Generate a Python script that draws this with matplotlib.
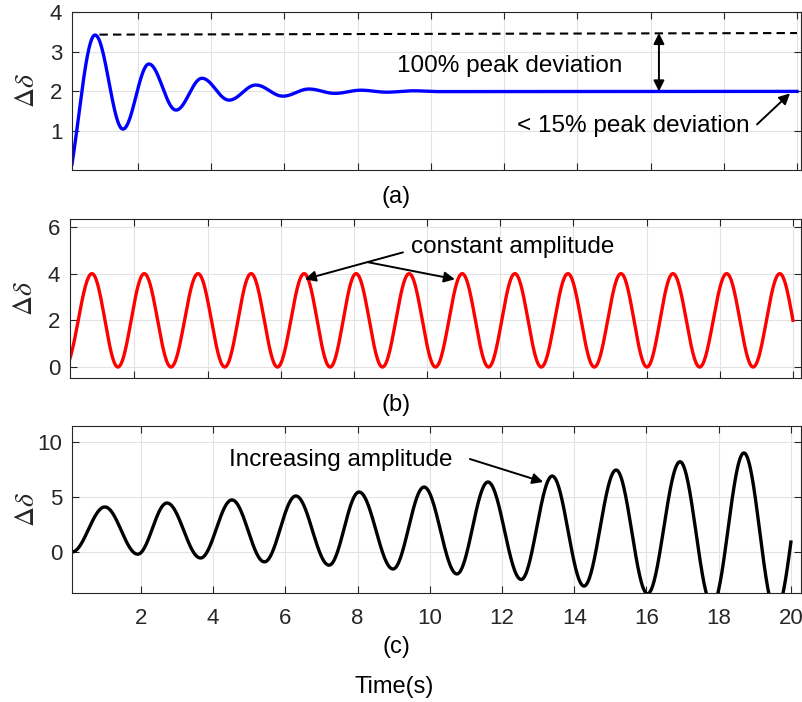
import numpy as np
import matplotlib
matplotlib.use("Agg")
import matplotlib.pyplot as plt

plt.rcParams['font.family'] = ['Liberation Sans', 'DejaVu Sans']
plt.rcParams['mathtext.fontset'] = 'stix'

# extrema (time in s, delta-delta value)
a_t = [0.2, 0.83, 1.59, 2.30, 3.04, 3.75, 4.49, 5.22, 5.96, 6.67, 7.38, 8.09,
       8.80, 9.52, 10.24, 20.0]
a_v = [0.17, 3.42, 1.05, 2.69, 1.53, 2.33, 1.78, 2.16, 1.88, 2.06, 1.95, 2.03,
       1.98, 2.015, 1.995, 2.0]

b_t = [0.24, 0.84, 1.55, 2.27, 3.00, 3.74, 4.47, 5.19, 5.91, 6.64, 7.35, 8.06,
       8.78, 9.51, 10.23, 10.96, 11.68, 12.40, 13.12, 13.85, 14.57, 15.30,
       16.01, 16.72, 17.45, 18.19, 18.91, 19.64, 20.0]
b_v = [0.38, 4, 0, 4, 0, 4, 0, 4, 0, 4, 0, 4, 0, 4, 0, 4, 0, 4, 0, 4, 0, 4,
       0, 4, 0, 4, 0, 4, 2.0]

c_t = [0.09, 1.0, 1.91, 2.72, 3.65, 4.52, 5.42, 6.29, 7.21, 8.04, 8.98, 9.84,
       10.75, 11.61, 12.53, 13.39, 14.27, 15.16, 16.03, 16.93, 17.82, 18.70,
       19.58, 20.0]
c_v = [0.0, 4.09, -0.2, 4.45, -0.55, 4.73, -0.9, 5.09, -1.2, 5.45, -1.55, 5.9,
       -2.0, 6.36, -2.5, 6.9, -3.1, 7.45, -3.8, 8.2, -4.8, 9.0, -5.4, 0.9]

x_ticks = [2, 4, 6, 8, 10, 12, 14, 16, 18, 20]


def swing(t0, v0, t1, v1, p0=0.0, p1=1.0, n=60):
    # one half swing between two read points, cosine shaped
    ph = np.linspace(p0, p1, n)
    u = (1 - np.cos(np.pi * ph)) / 2
    u = (u - u[0]) / (u[-1] - u[0])
    return np.linspace(t0, t1, n), v0 + (v1 - v0) * u


def curve(ts, vs, p_start=0.0, p_end=1.0):
    xx, yy = [], []
    for i in range(len(ts) - 1):
        p0 = p_start if i == 0 else 0.0
        p1 = p_end if i == len(ts) - 2 else 1.0
        x, y = swing(ts[i], vs[i], ts[i + 1], vs[i + 1], p0, p1)
        xx.append(x)
        yy.append(y)
    return np.concatenate(xx), np.concatenate(yy)


fig = plt.figure(figsize=(8.02, 7.02), dpi=100)
W, H = 802, 702
ax_a = fig.add_axes([72 / W, 1 - 170 / H, 729 / W, 158 / H])
ax_b = fig.add_axes([70 / W, 1 - 378 / H, 731 / W, 159 / H])
ax_c = fig.add_axes([72 / W, 1 - 593 / H, 729 / W, 167 / H])

for ax in (ax_a, ax_b, ax_c):
    ax.grid(True, color='#e3e3e3', linewidth=0.8)
    ax.set_axisbelow(True)
    ax.tick_params(direction='in', top=True, right=True, length=5,
                   width=0.8, colors='#262626', labelsize=16)
    ax.tick_params(axis='x', pad=11)
    ax.tick_params(axis='y', pad=7)
    for s in ax.spines.values():
        s.set_color('#262626')
        s.set_linewidth(0.8)
    ax.set_xticks(x_ticks)
    ax.set_ylabel(r'$\Delta\delta$', fontsize=20, color='#262626')
    ax.yaxis.set_label_coords(-0.044, 0.5)

# (a) damped
x, y = curve(a_t, a_v, p_start=0.3)
ax_a.plot(x, y, color='blue', linewidth=2.4)
ax_a.plot([0.95, 20], [3.43, 3.47], color='black', linewidth=1.5,
          linestyle=(0, (4, 2.5)))
ax_a.annotate('', xy=(16.23, 3.47), xytext=(16.23, 2.0),
              arrowprops=dict(arrowstyle='<|-|>', color='black', lw=1.4,
                              mutation_scale=16, shrinkA=0, shrinkB=0))
ax_a.text(9.08, 2.64, '100% peak deviation', fontsize=17.5, va='center')
ax_a.text(12.36, 1.12, '< 15% peak deviation', fontsize=17.5, va='center')
ax_a.annotate('', xy=(19.81, 1.95), xytext=(18.91, 1.17),
              arrowprops=dict(arrowstyle='-|>', color='black', lw=1.4,
                              mutation_scale=16, shrinkA=0, shrinkB=0))
ax_a.set_xlim(0.2, 20.11)
ax_a.set_ylim(0.02, 4)
ax_a.set_yticks([1, 2, 3, 4])
ax_a.tick_params(labelbottom=False)

# (b) sustained
x, y = curve(b_t, b_v, p_start=0.2, p_end=0.5)
ax_b.plot(x, y, color='red', linewidth=2.4)
ax_b.text(9.56, 5.13, 'constant amplitude', fontsize=17.5, va='center')
ax_b.annotate('', xy=(6.66, 3.76), xytext=(9.34, 4.91),
              arrowprops=dict(arrowstyle='-|>', color='black', lw=1.4,
                              mutation_scale=16, shrinkA=0, shrinkB=0))
ax_b.annotate('', xy=(10.76, 3.76), xytext=(8.38, 4.49),
              arrowprops=dict(arrowstyle='-|>', color='black', lw=1.4,
                              mutation_scale=16, shrinkA=0, shrinkB=0))
ax_b.set_xlim(0.24, 20.22)
ax_b.set_ylim(-0.47, 6.34)
ax_b.set_yticks([0, 2, 4, 6])
ax_b.tick_params(labelbottom=False)

# (c) growing
x, y = curve(c_t, c_v, p_end=0.45)
ax_c.plot(x, y, color='black', linewidth=2.4)
ax_c.text(4.44, 8.36, 'Increasing amplitude', fontsize=17.5, va='center')
ax_c.annotate('', xy=(13.14, 6.36), xytext=(11.11, 8.45),
              arrowprops=dict(arrowstyle='-|>', color='black', lw=1.4,
                              mutation_scale=16, shrinkA=0, shrinkB=0))
ax_c.set_xlim(0.09, 20.28)
ax_c.set_ylim(-3.73, 11.45)
ax_c.set_yticks([0, 5, 10])

fig.text(396 / W, 1 - 197 / H, '(a)', fontsize=17, ha='center', va='center')
fig.text(396 / W, 1 - 405 / H, '(b)', fontsize=17, ha='center', va='center')
fig.text(396 / W, 1 - 647 / H, '(c)', fontsize=17, ha='center', va='center')
fig.text(394 / W, 1 - 687 / H, 'Time(s)', fontsize=17, ha='center', va='center')

fig.savefig('out.png', dpi=100)
